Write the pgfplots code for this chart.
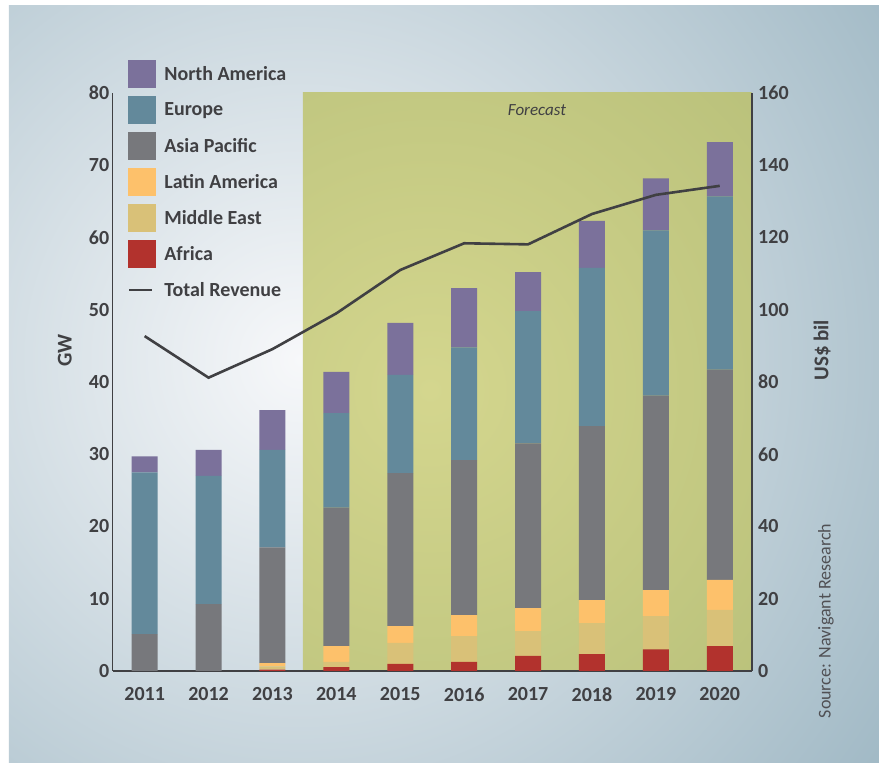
\documentclass[border=0pt]{standalone}
\usepackage{pgfplots}
\pgfplotsset{compat=1.18}
\usepackage{fontspec}
\setmainfont{Carlito}

\definecolor{cNA}{RGB}{123,113,155}
\definecolor{cEU}{RGB}{99,137,155}
\definecolor{cAP}{RGB}{119,120,124}
\definecolor{cLA}{RGB}{253,193,107}
\definecolor{cME}{RGB}{217,193,120}
\definecolor{cAF}{RGB}{178,50,45}
\definecolor{txt}{RGB}{64,64,67}
\definecolor{panelIn}{RGB}{247,248,250}
\definecolor{panelOut}{RGB}{162,186,198}
\definecolor{oliveIn}{RGB}{212,214,142}
\definecolor{oliveOut}{RGB}{165,177,108}

\pgfplotsset{
  sq/.style={area legend, legend image code/.code={\fill[##1] (0pt,-14pt) rectangle (28pt,14pt);}},
  ln/.style={legend image code/.code={\path[draw=none, fill=none] (0pt,-14pt) rectangle (28pt,14pt); \draw[##1] (1pt,0pt) -- (24pt,0pt);}},
}

\begin{document}
\begin{tikzpicture}
\useasboundingbox (-112.7pt,-92pt) rectangle (766.3pt,671pt);
\fill[white] (-112.7pt,-92pt) rectangle (766.3pt,671pt);
\begin{scope}
  \clip (-103.7pt,-92pt) rectangle (766.3pt,665pt);
  \fill[panelOut] (-103.7pt,-92pt) rectangle (766.3pt,665pt);
  \shade[inner color=panelIn, outer color=panelOut] (187.3pt,311pt) circle (700pt);
\end{scope}
% forecast band (2013.5 to 2020.5)
\begin{scope}
  \clip (190.1pt,0pt) rectangle (639pt,578pt);
  \fill[oliveOut] (190.1pt,0pt) rectangle (639pt,578pt);
  \shade[inner color=oliveIn, outer color=oliveOut] (317.3pt,281pt) circle (800pt);
\end{scope}

% stacked GW bars
\begin{axis}[
  scale only axis, width=639pt, height=578pt,
  xmin=-0.5, xmax=9.5, ymin=0, ymax=80,
  ybar stacked, bar width=26pt,
  axis x line*=bottom, axis y line*=left,
  axis line style={line width=1.6pt, draw=txt, -},
  xtick={0,...,9},
  xticklabels={2011,2012,2013,2014,2015,2016,2017,2018,2019,2020},
  ytick={0,10,...,80},
  major tick length=0pt,
  tick label style={font=\fontsize{20}{24}\selectfont\bfseries, text=txt},
  xticklabel style={yshift=-13pt},
  /pgf/number format/assume math mode=true,
  ylabel={GW},
  ylabel style={at={(axis description cs:-0.075,0.555)}, anchor=center,
    font=\fontsize{21}{24}\selectfont\bfseries, text=txt},
]
\addplot[fill=cAF, draw=none] coordinates {(0,0) (1,0) (2,0.2) (3,0.55) (4,0.97) (5,1.25) (6,2.1) (7,2.35) (8,3.0) (9,3.46)};
\addplot[fill=cME, draw=none] coordinates {(0,0) (1,0) (2,0.45) (3,0.7) (4,2.93) (5,3.59) (6,3.4) (7,4.25) (8,4.6) (9,4.99)};
\addplot[fill=cLA, draw=none] coordinates {(0,0) (1,0) (2,0.45) (3,2.21) (4,2.3) (5,2.91) (6,3.2) (7,3.2) (8,3.6) (9,4.15)};
\addplot[fill=cAP, draw=none] coordinates {(0,5.1) (1,9.25) (2,16.0) (3,19.14) (4,21.2) (5,21.45) (6,22.8) (7,24.1) (8,26.9) (9,29.1)};
\addplot[fill=cEU, draw=none] coordinates {(0,22.4) (1,17.75) (2,13.5) (3,13.1) (4,13.6) (5,15.6) (6,18.3) (7,21.9) (8,22.9) (9,24.0)};
\addplot[fill=cNA, draw=none] coordinates {(0,2.2) (1,3.6) (2,5.5) (3,5.7) (4,7.2) (5,8.2) (6,5.4) (7,6.5) (8,7.2) (9,7.5)};
\end{axis}

% revenue line, right axis, and the legend
\begin{axis}[
  scale only axis, width=639pt, height=578pt,
  xmin=-0.5, xmax=9.5, ymin=0, ymax=160,
  axis x line=none, axis y line*=right,
  axis line style={line width=1.6pt, draw=txt, -},
  ytick={0,20,...,160},
  major tick length=0pt,
  tick label style={font=\fontsize{20}{24}\selectfont\bfseries, text=txt},
  yticklabel style={xshift=3pt},
  /pgf/number format/assume math mode=true,
  ylabel={US\$ bil},
  ylabel style={at={(axis description cs:1.11,0.555)}, anchor=center,
    font=\fontsize{21}{24}\selectfont\bfseries, text=txt},
  legend cell align=left,
  legend style={at={(axis description cs:0.024,1.057)}, anchor=north west,
    draw=none, fill=none, inner sep=0pt, outer sep=0pt, row sep=8pt,
    nodes={inner sep=0pt, text=txt},
    font=\fontsize{20}{24}\selectfont\bfseries,
    /tikz/every odd column/.append style={column sep=8pt}},
]
\addlegendimage{sq, fill=cNA, draw=none}
\addlegendimage{sq, fill=cEU, draw=none}
\addlegendimage{sq, fill=cAP, draw=none}
\addlegendimage{sq, fill=cLA, draw=none}
\addlegendimage{sq, fill=cME, draw=none}
\addlegendimage{sq, fill=cAF, draw=none}
\addplot[line width=2.6pt, color=txt, mark=none, ln]
  coordinates {(0,92.7) (1,81.2) (2,89.1) (3,99.0) (4,111.0) (5,118.4) (6,118.1) (7,126.5) (8,131.8) (9,134.3)};
\legend{North America, Europe, Asia Pacific, Latin America, Middle East, Africa, Total Revenue}
\end{axis}

\node[font=\fontsize{17}{20}\selectfont\itshape, text=txt] at (424.3pt,561pt) {Forecast};
\node[rotate=90, font=\fontsize{18}{21}\selectfont, text={rgb,255:red,80;green,80;blue,84}] at (713.3pt,50pt) {Source: Navigant Research};
\end{tikzpicture}
\end{document}
